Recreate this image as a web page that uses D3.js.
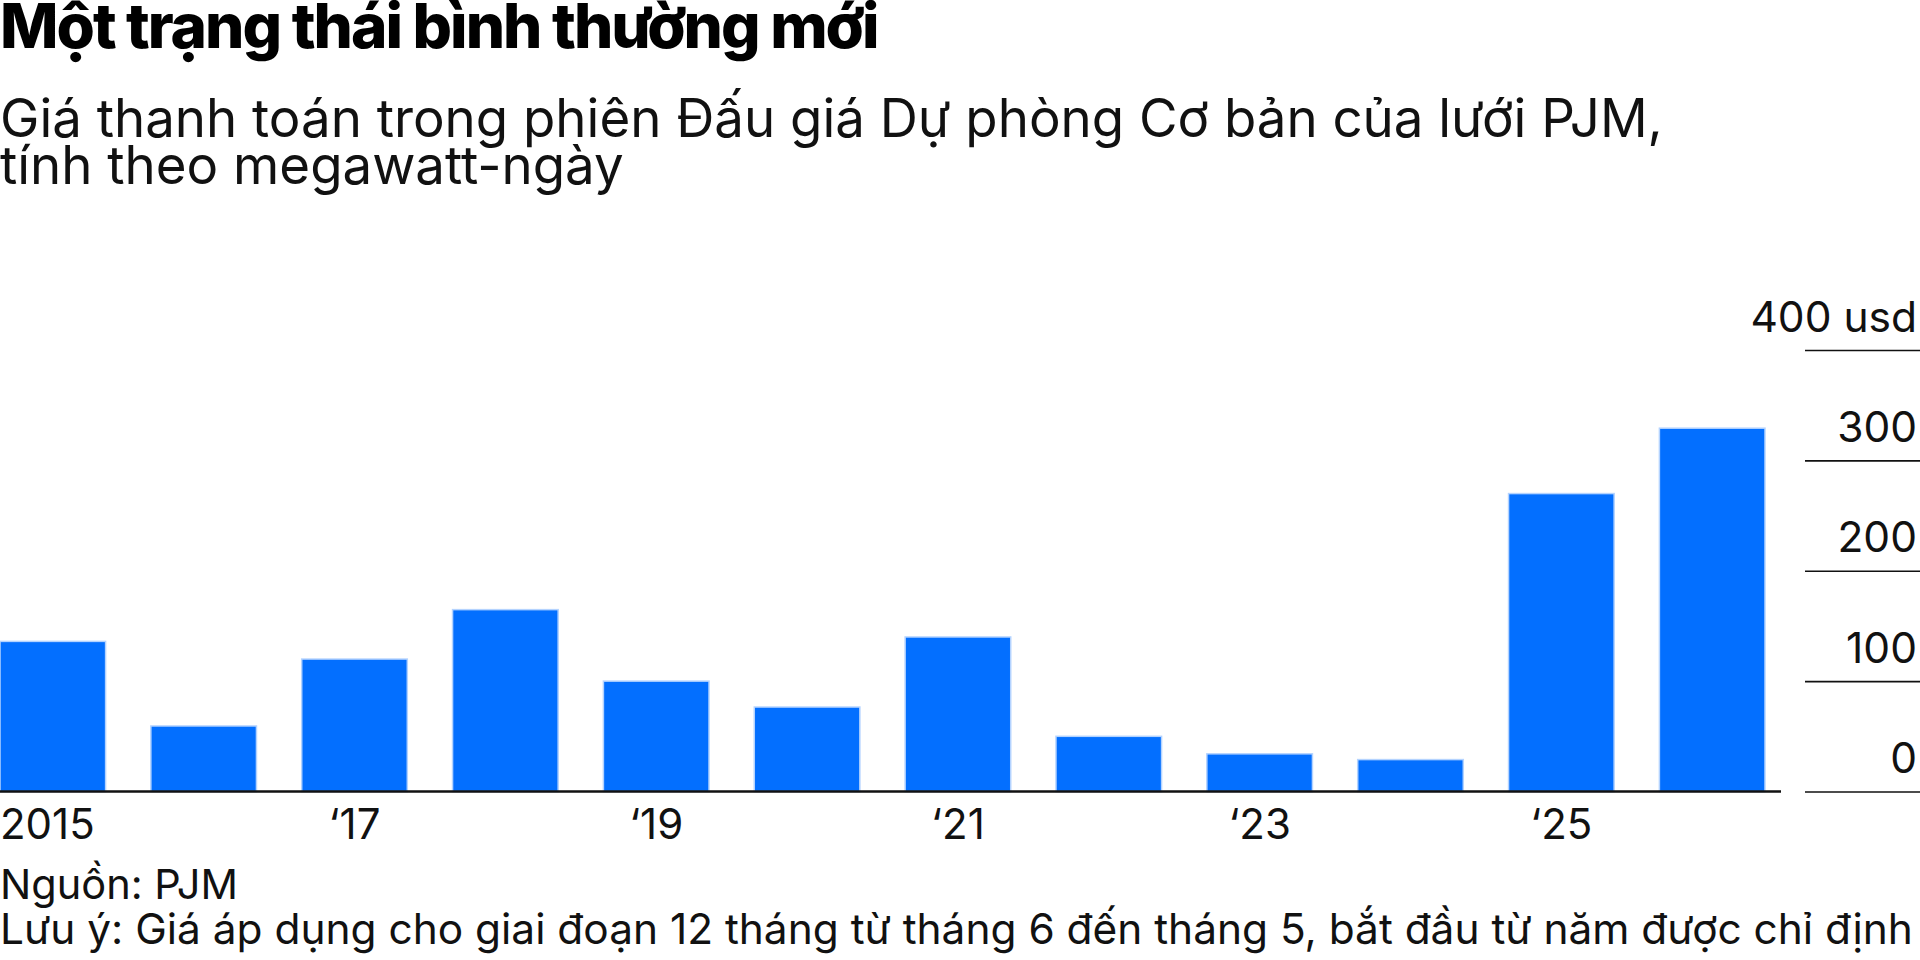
<!DOCTYPE html>
<html>
<head>
<meta charset="utf-8">
<script src="https://cdn.jsdelivr.net/npm/d3@7"></script>
<style>
  body { margin: 0; background: #fff; }
  svg { display: block; font-family: Inter, "Noto Sans", sans-serif; }
</style>
</head>
<body>
<div id="chart"></div>
<script>
// auction years (delivery year starts in June)
var years = [2015, 2016, 2017, 2018, 2019, 2020, 2021, 2022, 2023, 2024, 2025, 2026];
// clearing price, usd per megawatt-day
var prices = [136, 59.37, 120, 164.77, 100, 76.53, 140, 50, 34.13, 28.92, 269.92, 329.17];
var year_labels = ["2015", "‘17", "‘19", "‘21", "‘23", "‘25"];
var labelled_years = [2015, 2017, 2019, 2021, 2023, 2025];
var y_ticks = [0, 100, 200, 300, 400];
var y_tick_labels = ["0", "100", "200", "300", "400 usd"];

var title = "Một trạng thái bình thường mới";
var subtitle = ["Giá thanh toán trong phiên Đấu giá Dự phòng Cơ bản của lưới PJM,", "tính theo megawatt-ngày"];
var source = "Nguồn: PJM";
var note = "Lưu ý: Giá áp dụng cho giai đoạn 12 tháng từ tháng 6 đến tháng 5, bắt đầu từ năm được chỉ định";

function draw_chart() {
    var width = 1920, height = 960;

    var svg = d3.select("#chart")
        .append("svg")
        .attr("width", width)
        .attr("height", height);

    var data = years.map(function (y, i) { return { year: y, value: prices[i] }; });

    // scales
    var x = d3.scaleBand()
        .domain(years)
        .range([0, 1765])
        .paddingInner(0.3)
        .paddingOuter(0);

    var y = d3.scaleLinear()
        .domain([0, 400])
        .range([791.5, 350]);

    // right-hand gridlines + labels
    var yAxis = svg.append("g")
        .attr("transform", "translate(" + width + ",0)")
        .call(d3.axisLeft(y)
            .tickValues(y_ticks)
            .tickSize(115)
            .tickFormat(function (d, i) { return y_tick_labels[i]; }));
    yAxis.select(".domain").remove();
    yAxis.selectAll(".tick line")
        .attr("stroke", "#111")
        .attr("stroke-width", 1.6);
    yAxis.selectAll(".tick text")
        .attr("x", -3)
        .attr("dy", -19)
        .attr("text-anchor", "end")
        .style("font-size", "42.5px")
        .style("font-family", "Inter")
        .attr("fill", "#111");

    // bars
    svg.append("g")
        .selectAll("rect")
        .data(data)
        .enter()
        .append("rect")
        .attr("x", function (d) { return x(d.year); })
        .attr("y", function (d) { return y(d.value); })
        .attr("width", x.bandwidth())
        .attr("height", function (d) { return y(0) - y(d.value); })
        .style("fill", "#036fff")
        .style("stroke", "#b4d3ff")
        .style("stroke-width", 1.5);

    // baseline
    svg.append("line")
        .attr("x1", 0)
        .attr("x2", 1781)
        .attr("y1", y(0))
        .attr("y2", y(0))
        .attr("stroke", "#111")
        .attr("stroke-width", 2.5);

    // x axis labels
    var xAxis = svg.append("g")
        .attr("transform", "translate(0," + y(0) + ")")
        .call(d3.axisBottom(x)
            .tickValues(labelled_years)
            .tickSize(0)
            .tickFormat(function (d) { return year_labels[labelled_years.indexOf(d)]; }));
    xAxis.select(".domain").remove();
    xAxis.selectAll(".tick text")
        .attr("y", 47)
        .attr("dy", 0)
        .style("font-size", "42px")
        .style("font-family", "Inter")
        .attr("fill", "#111");
    // first label sits flush left
    xAxis.selectAll(".tick text")
        .filter(function (d) { return d == 2015; })
        .attr("text-anchor", "start")
        .attr("x", -x.bandwidth() / 2);

    // title
    svg.append("text")
        .attr("x", 0)
        .attr("y", 48)
        .style("font-size", "62px")
        .style("font-weight", 800)
        .style("letter-spacing", "-2px")
        .attr("fill", "#000")
        .text(title);

    // subtitle
    svg.append("g")
        .selectAll("text")
        .data(subtitle)
        .enter()
        .append("text")
        .attr("x", 0)
        .attr("y", function (d, i) { return 137 + i * 47; })
        .style("font-size", "52.8px")
        .attr("fill", "#111")
        .text(function (d) { return d; });

    // footer
    svg.append("text")
        .attr("x", 0)
        .attr("y", 899)
        .style("font-size", "41.5px")
        .attr("fill", "#111")
        .text(source);

    svg.append("text")
        .attr("x", 0)
        .attr("y", 944)
        .style("font-size", "42.4px")
        .attr("fill", "#111")
        .text(note);
}

draw_chart();
</script>
</body>
</html>
